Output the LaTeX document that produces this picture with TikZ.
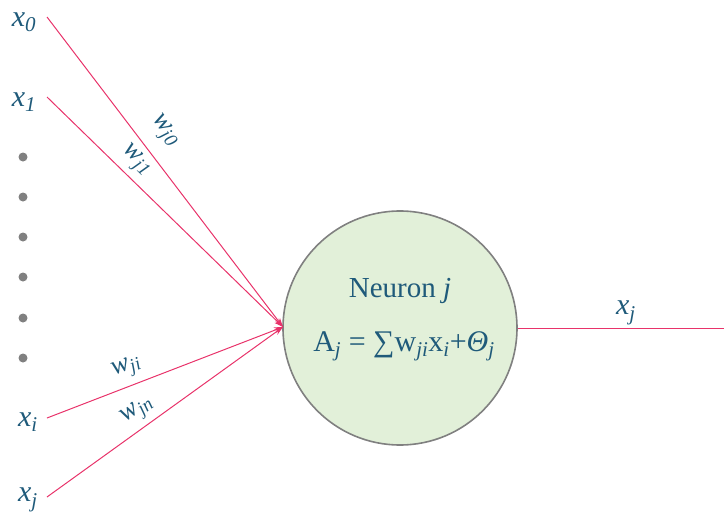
\documentclass[tikz,border=0pt]{standalone}
\usepackage{fontspec}
\setmainfont{Liberation Serif}
\usetikzlibrary{arrows.meta}
\definecolor{txt}{HTML}{1F5A7A}
\definecolor{wire}{HTML}{E8336A}
\definecolor{cellfill}{HTML}{E2F0D9}
\definecolor{cellline}{HTML}{808080}
\newcommand{\sbs}[1]{\textsubscript{#1}}
\begin{document}
\begin{tikzpicture}[x=1pt,y=-1pt,
  lbl/.style={text=txt,font=\fontsize{30}{34}\selectfont\itshape,inner sep=0pt},
  wlbl/.style={text=txt,font=\fontsize{27}{30}\selectfont\itshape,inner sep=0pt},
  wireline/.style={draw=wire,line width=1pt},
  arrowwire/.style={wireline,-{Stealth[length=9pt,width=6pt]}},
  ddot/.style={circle,fill=cellline,inner sep=0pt,minimum size=9pt}]
\useasboundingbox (0,0) rectangle (724,517);
% neuron
\node[circle,draw=cellline,line width=1.6pt,fill=cellfill,minimum size=234pt,inner sep=0pt] (n) at (400,328) {};
\node[text=txt,font=\fontsize{29}{32}\selectfont,inner sep=0pt] (title) at (400,291) {Neuron \textit{j}};
\node[text=txt,font=\fontsize{30}{34}\selectfont,inner sep=0pt] (eq) at (404,346) {A\sbs{\textit{j}} = ∑w\sbs{\textit{ji}}x\sbs{\textit{i}}+\textit{Θ}\sbs{\textit{j}}};
\coordinate (hub) at (283,327);
% inputs
\node[lbl] (x0) at (24,22) {x\sbs{0}};
\node[lbl] (x1) at (24,102) {x\sbs{1}};
\node[lbl] (xi) at (28,422) {x\sbs{i}};
\node[lbl] (xj) at (28,500) {x\sbs{j}};
\coordinate (s0) at (47,17);
\coordinate (s1) at (47,97);
\coordinate (si) at (47,418);
\coordinate (sj) at (47,497);
\draw[arrowwire] (s0) -- (hub);
\draw[arrowwire] (s1) -- (hub);
\draw[arrowwire] (si) -- (hub);
\draw[arrowwire] (sj) -- (hub);
% dots
\foreach \k/\yy in {1/157,2/197,3/237,4/277,5/318,6/358}
  \node[ddot] (d\k) at (23,\yy) {};
% weights
\node[wlbl,rotate=-52.8] (w0) at (164,131) {w\sbs{j0}};
\node[wlbl,rotate=-44.4] (w1) at (136,161) {w\sbs{j1}};
\node[wlbl,rotate=21] (wi) at (127,368) {w\sbs{ji}};
\node[wlbl,rotate=35.6] (wn) at (138,411) {w\sbs{jn}};
% output
\coordinate (out) at (724,328);
\draw[wireline] (n.east) -- (out);
\node[lbl] (xo) at (626,313) {x\sbs{j}};
\end{tikzpicture}
\end{document}
